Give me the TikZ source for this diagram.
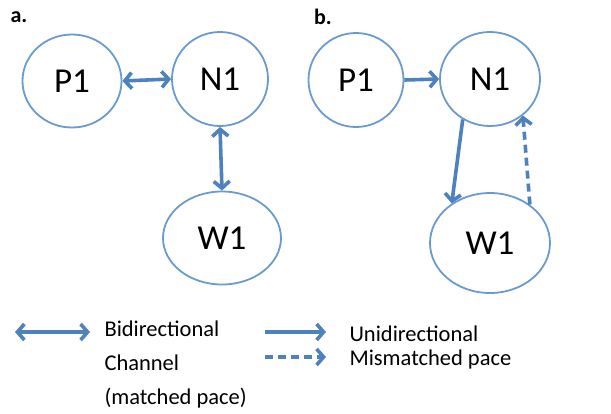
\documentclass[tikz,border=0pt]{standalone}
\usepackage{fontspec}
\setmainfont{Carlito}
\usetikzlibrary{shapes.geometric,arrows.meta}
\definecolor{ringblue}{HTML}{6A9BD0}
\definecolor{arrowblue}{HTML}{4F81BD}
\tikzset{
  agent/.style={ellipse,draw=ringblue,line width=1.8pt,inner sep=0pt,font=\fontsize{35}{40}\selectfont},
  link/.style={draw=arrowblue,line width=3.6pt},
  tipend/.style={-{Straight Barb[length=7pt,width=16pt]}},
  tipboth/.style={{Straight Barb[length=7pt,width=16pt]}-{Straight Barb[length=7pt,width=16pt]}},
  mism/.style={dash pattern=on 8pt off 5pt},
  panel/.style={font=\fontsize{22}{26}\selectfont\bfseries,anchor=center},
  legtext/.style={font=\fontsize{22.5}{34}\selectfont,anchor=west,align=left}
}
\begin{document}
\begin{tikzpicture}[x=1pt,y=-1pt]
\useasboundingbox (0,0) rectangle (611,413);
% panel a
\node[panel] (la) at (19,17) {a.};
\node[agent,minimum width=99pt,minimum height=93pt] (P1a) at (72,81) {P1};
\node[agent,minimum width=96pt,minimum height=94pt] (N1a) at (220,79) {N1};
\node[agent,minimum width=118pt,minimum height=93pt] (W1a) at (222,238) {W1};
\draw[link,tipboth] (P1a.east) -- (N1a.west);
\draw[link,tipboth] (N1a.south) -- (W1a.north);
% panel b
\node[panel] (lb) at (323,17) {b.};
\node[agent,minimum width=95pt,minimum height=94pt] (P1b) at (356,80) {P1};
\node[agent,minimum width=100pt,minimum height=94pt] (N1b) at (490,79) {N1};
\node[agent,minimum width=120pt,minimum height=100pt] (W1b) at (490,243) {W1};
\draw[link,tipend] (P1b.east) -- (N1b.west);
\draw[link,tipend] (N1b.236) -- (W1b.134);
\draw[link,tipend,mism] (W1b.44) -- (N1b.312);
% legend
\coordinate (b1) at (15,332);
\coordinate (b2) at (90,332);
\draw[link,tipboth] (b1) -- (b2);
\node[legtext] (tb) at (101,364) {Bidirectional\\Channel\\(matched pace)};
\coordinate (u1) at (265,332);
\coordinate (u2) at (326,332);
\draw[link,tipend] (u1) -- (u2);
\coordinate (m1) at (265,357);
\coordinate (m2) at (326,357);
\draw[link,tipend,mism] (m1) -- (m2);
\node[legtext] (tu) at (346,334) {Unidirectional};
\node[legtext] (tm) at (346,359) {Mismatched pace};
\end{tikzpicture}
\end{document}
